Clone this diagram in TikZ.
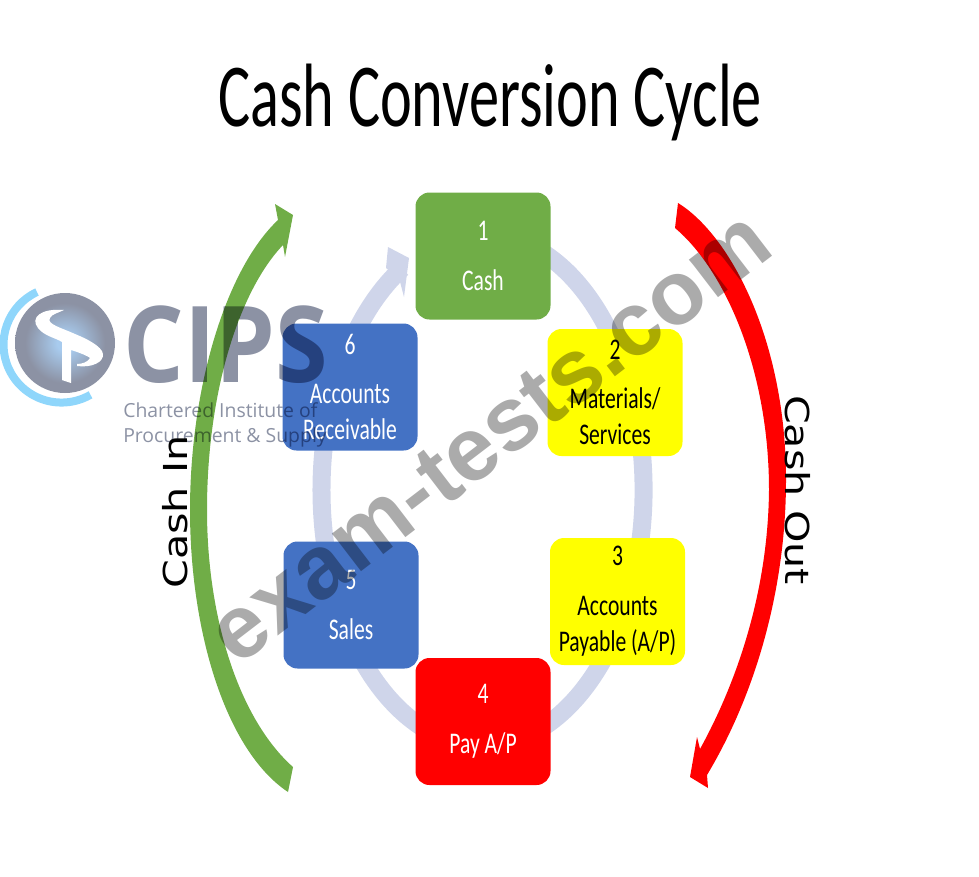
\documentclass[tikz,border=0pt]{standalone}
\usepackage{fontspec}
\setmainfont{Carlito}
\newfontfamily\titlefont[FakeStretch=0.67]{Carlito}
\newfontfamily\boxfont[FakeStretch=0.72]{Carlito}
\newfontfamily\sidefont[FakeStretch=1.25]{DejaVu Sans}
\newfontfamily\logofont{Open Sans}
\newfontfamily\logoboldfont[FakeStretch=0.9]{Open Sans}
\newfontfamily\markfont{Liberation Sans}

\definecolor{cashgreen}{HTML}{70AD47}
\definecolor{boxblue}{HTML}{4472C4}
\definecolor{boxyellow}{HTML}{FFFF00}
\definecolor{boxred}{HTML}{FF0000}
\definecolor{ringblue}{HTML}{CFD5EA}
\definecolor{logogrey}{HTML}{8C92A4}
\definecolor{logosky}{HTML}{8FD6FB}
\definecolor{logoglow}{HTML}{A8CBEE}

\pgfdeclareradialshading{logoshade}{\pgfpoint{0bp}{0bp}}{
  color(0bp)=(logoglow); color(4bp)=(logoglow); color(20bp)=(logogrey); color(50bp)=(logogrey)}

\tikzset{
  stagebox/.style={rounded corners=14pt, minimum width=135pt, minimum height=127pt, inner sep=0pt, align=center, font=\boxfont\fontsize{30}{36}\selectfont},
  sidelabel/.style={inner sep=0pt, font=\sidefont\fontsize{33}{36}\selectfont},
}

\begin{document}
\begin{tikzpicture}[x=1pt,y=-1pt]

\useasboundingbox (0,0) rectangle (979,876);

\node[inner sep=0pt, font=\titlefont\fontsize{90}{96}\selectfont] (title) at (490,103) {Cash Conversion Cycle};

\coordinate (ringstart) at (537.6,249.4);

\draw[line width=18pt, ringblue] (ringstart) arc[start angle=-70, end angle=240, x radius=161, y radius=256];
\fill[ringblue] (388,247) -- (409,258) -- (404,297) -- (399,278) -- (386,268) -- cycle;

\node[stagebox, fill=cashgreen, text=white] (cash) at (483,256) {1\\[14pt]Cash};
\node[stagebox, fill=boxyellow] (materials) at (615,392.5) {2\\[13pt]Materials/\\Services};
\node[stagebox, fill=boxyellow] (payable) at (617.5,601.5) {3\\[14pt]Accounts\\Payable (A/P)};
\node[stagebox, fill=boxred, text=white] (pay) at (483,721.5) {4\\[14pt]Pay A/P};
\node[stagebox, fill=boxblue, text=white] (sales) at (351,605) {5\\[14pt]Sales};
\node[stagebox, fill=boxblue, text=white] (receivable) at (350,387) {6\\[13pt]Accounts\\Receivable};

\fill[cashgreen] (288,792)
  .. controls (225,750) and (190,630) .. (190,510)
  .. controls (190,390) and (225,270) .. (278,220)
  -- (275,204) -- (293,215) -- (285,257) -- (283,245)
  .. controls (240,290) and (207,390) .. (207,510)
  .. controls (207,620) and (240,720) .. (293,767)
  -- cycle;

\fill[boxred] (678,203)
  .. controls (730,235) and (786,340) .. (786,480)
  .. controls (786,590) and (755,695) .. (707,775)
  -- (708,788) -- (690,777) -- (697,737) -- (700,749)
  .. controls (738,680) and (768,590) .. (769,490)
  .. controls (769,370) and (725,270) .. (675,228)
  -- cycle;

\node[sidelabel, rotate=90] (cashin) at (175,512) {Cash In};
\node[sidelabel, rotate=-90] (cashout) at (798,490) {Cash Out};

\draw[line width=8pt, logosky] (37,292) arc[start angle=-115, end angle=-300, radius=58];
\shade[shading=logoshade] (65,343) circle (50);
\fill[white] (64,310) .. controls (40,308) and (30,318) .. (38,328)
  .. controls (44,336) and (56,338) .. (62,342)
  -- (62,380) -- (71,383) -- (71,350)
  .. controls (78,352) and (88,356) .. (90,358)
  .. controls (88,362) and (82,364) .. (77,364)
  -- (77,366)
  .. controls (92,368) and (104,362) .. (103,354)
  .. controls (102,346) and (85,338) .. (75,334)
  .. controls (62,328) and (46,324) .. (50,318)
  .. controls (52,314) and (58,313) .. (64,310) -- cycle;

\begin{scope}[blend mode=multiply]
\node[inner sep=0pt, text=logogrey, font=\logoboldfont\bfseries\fontsize{106}{106}\selectfont] (cips) at (226,345) {CIPS};
\node[inner sep=0pt, text=logogrey, align=left, font=\logofont\fontsize{19.4}{25}\selectfont] (institute) at (225,425) {Chartered Institute of\\Procurement \& Supply};
\node[inner sep=0pt, text=black!33, rotate=37.5, font=\markfont\bfseries\fontsize{90}{96}\selectfont] (mark) at (490,437) {exam-tests.com};
\end{scope}

\end{tikzpicture}
\end{document}
